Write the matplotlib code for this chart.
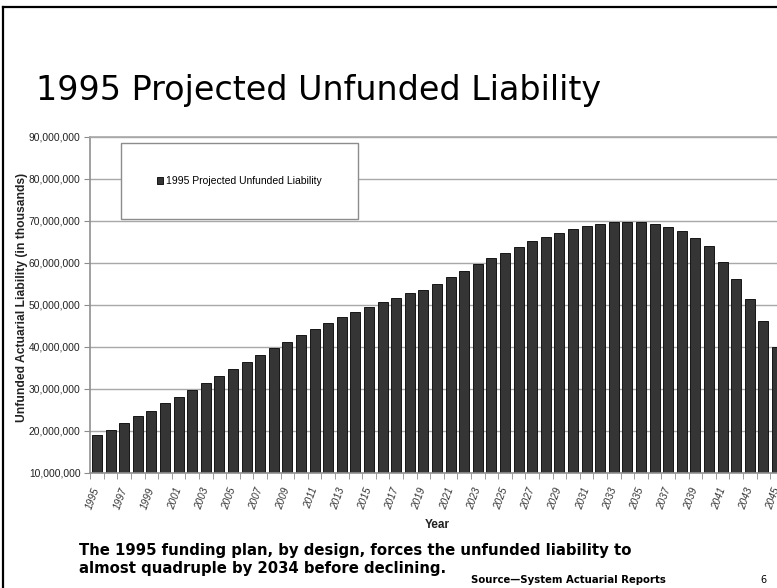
import numpy as np
import matplotlib.pyplot as plt
from matplotlib.patches import Rectangle
from matplotlib.lines import Line2D
from matplotlib.ticker import FuncFormatter

# Unfunded actuarial liability, in thousands
years = list(range(1995, 2046))
liability = [
    19_000_000, 20_300_000, 21_800_000, 23_500_000, 24_800_000,
    26_600_000, 28_200_000, 29_800_000, 31_500_000, 33_100_000,
    34_700_000, 36_500_000, 38_100_000, 39_800_000, 41_300_000,
    42_900_000, 44_200_000, 45_800_000, 47_100_000, 48_300_000,
    49_600_000, 50_700_000, 51_700_000, 52_800_000, 53_600_000,
    55_000_000, 56_600_000, 58_100_000, 59_800_000, 61_100_000,
    62_400_000, 63_800_000, 65_200_000, 66_200_000, 67_100_000,
    68_000_000, 68_900_000, 69_400_000, 69_800_000, 69_800_000,
    69_800_000, 69_300_000, 68_600_000, 67_700_000, 66_000_000,
    64_000_000, 60_300_000, 56_300_000, 51_400_000, 46_100_000,
    39_900_000,
]
y_ticks = list(range(10_000_000, 90_000_001, 10_000_000))

W, H = 777, 588
narrow = ["Liberation Sans Narrow", "Liberation Sans"]


def fx(px):
    return px / W


def fy(py):
    return 1 - py / H


fig = plt.figure(figsize=(W / 100, H / 100), dpi=100)
ax = fig.add_axes([fx(90.2), fy(473), 693.6 / W, 336 / H])

x = np.arange(len(years))
ax.bar(x, liability, width=0.74, color="#353535", edgecolor="#151515",
       linewidth=0.7, zorder=2, label="1995 Projected Unfunded Liability")

ax.set_xlim(-0.5, len(years) - 0.5)
ax.set_ylim(y_ticks[0], y_ticks[-1])
ax.set_yticks(y_ticks)
ax.yaxis.set_major_formatter(FuncFormatter(lambda v, p: f"{int(v):,}"))
ax.yaxis.grid(True, color="#a8a8a8", linewidth=1)
ax.set_axisbelow(True)

# labels every second year, tick marks between every category
ax.set_xticks(x[::2])
ax.set_xticklabels([str(y) for y in years[::2]], rotation=70, ha="right",
                   va="center", rotation_mode="anchor", fontstyle="italic",
                   family="Liberation Sans", fontsize=7.2, color="#333333")
ax.set_xticks(np.arange(-0.5, len(years), 1), minor=True)
ax.tick_params(axis="x", which="major", length=0, pad=10.5)
ax.tick_params(axis="x", which="minor", length=4, color="#8c8c8c", direction="out")
ax.tick_params(axis="y", length=4, color="#8c8c8c", pad=3, labelsize=7.4,
               labelcolor="#222222")
for lab in ax.get_yticklabels():
    lab.set_family(narrow)

for side in ["left", "bottom", "top"]:
    ax.spines[side].set_color("#909090")
    ax.spines[side].set_linewidth(1.2)
ax.spines["top"].set_color("#a8a8a8")
ax.spines["right"].set_visible(False)

# legend box
bx, by, bw, bh = 0.0444, 0.756, 0.342, 0.226
ax.add_patch(Rectangle((bx, by), bw, bh, transform=ax.transAxes,
                       facecolor="white", edgecolor="#8c8c8c", linewidth=1,
                       zorder=3))
ax.legend(loc="center", bbox_to_anchor=(bx, by, bw, bh), frameon=False,
          handlelength=0.6, handleheight=0.6, handletextpad=0.3,
          prop={"family": "Liberation Sans", "size": 7.5})

# slide texts
fig.text(fx(36), fy(100), "1995 Projected Unfunded Liability",
         family="DejaVu Sans", fontsize=24, va="baseline", ha="left")
fig.text(fx(22), fy(297), "Unfunded Actuarial Liability (in thousands)",
         rotation=90, ha="center", va="center", fontweight="bold",
         family="Liberation Sans", fontsize=8.7, color="#222222")
fig.text(fx(437), fy(525), "Year", ha="center", va="center",
         fontweight="bold", family=narrow, fontsize=8.5, color="#222222")
fig.text(fx(79), fy(555), "The 1995 funding plan, by design, forces the unfunded liability to",
         family="DejaVu Sans", fontweight="bold", fontsize=10.7, va="baseline")
fig.text(fx(79), fy(573), "almost quadruple by 2034 before declining.",
         family="DejaVu Sans", fontweight="bold", fontsize=10.7, va="baseline")
fig.text(fx(471), fy(583), "Source\u2014System Actuarial Reports",
         family="DejaVu Sans", fontweight="bold", fontsize=7.3, va="baseline")
fig.text(fx(760), fy(583), "6", family="DejaVu Sans", fontsize=7, va="baseline")

# slide frame on the left and top
fig.add_artist(Line2D([fx(3), fx(3)], [0, fy(7)], color="black", linewidth=1.6))
fig.add_artist(Line2D([fx(3), 1], [fy(7), fy(7)], color="black", linewidth=1.6))

fig.savefig("out.png", dpi=100)
